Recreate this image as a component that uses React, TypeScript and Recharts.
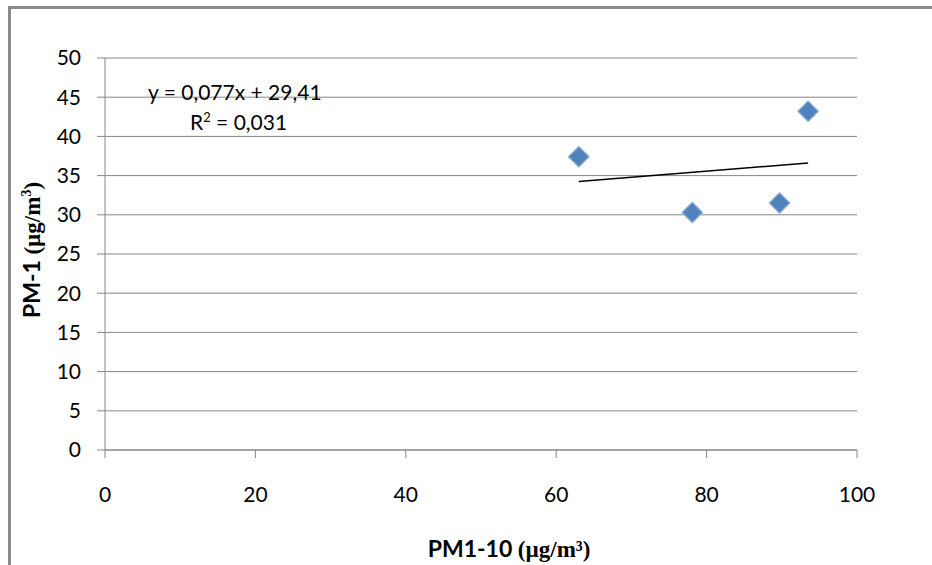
import { CartesianGrid, Scatter, ScatterChart, XAxis, YAxis } from "recharts";

const pm110 = [63.0, 78.1, 89.7, 93.5];
const pm1 = [37.4, 30.3, 31.5, 43.2];
const trendX = [63.0, 93.5];
const trendY = [34.26, 36.61];
const xTicks = [0, 20, 40, 60, 80, 100];
const yTicks = [0, 5, 10, 15, 20, 25, 30, 35, 40, 45, 50];

const points = pm110.map((x, i) => ({ x, y: pm1[i] }));
const trend = trendX.map((x, i) => ({ x, y: trendY[i] }));

const BLUE = "#4F81BD";
const GRID = "#868686";
const FONT = "Lato, 'Liberation Sans', sans-serif";
const SERIF = "'Liberation Serif', serif";

const Diamond = (props: any) => {
    const { cx, cy } = props;
    const r = 10;
    return (
        <path
            d={`M${cx},${cy - r} L${cx + r},${cy} L${cx},${cy + r} L${cx - r},${cy} Z`}
            fill={BLUE}
            stroke="#7FA3D3"
            strokeWidth={1.5}
            strokeLinejoin="round"
        />
    );
};

const App = () => {
    return (
        <div style={{ position: "absolute", left: 0, top: 0, width: 932, height: 565, background: "#fff" }}>
            <div
                style={{
                    position: "absolute",
                    left: 8,
                    top: 6,
                    right: 0,
                    bottom: 0,
                    borderLeft: "3px solid #8a8a8a",
                    borderTop: "3px solid #8a8a8a",
                }}
            />
            <div style={{ position: "absolute", left: 0, top: 0 }}>
                <ScatterChart
                    width={932}
                    height={565}
                    margin={{ top: 58, right: 75, bottom: 75, left: 45 }}
                >
                    <CartesianGrid horizontal vertical={false} stroke={GRID} />
                    <XAxis
                        type="number"
                        dataKey="x"
                        domain={[0, 100]}
                        ticks={xTicks}
                        height={40}
                        tickSize={8}
                        tickMargin={29}
                        axisLine={{ stroke: GRID }}
                        tickLine={{ stroke: GRID }}
                        tick={{ fill: "#000", fontSize: 21, fontFamily: FONT }}
                    />
                    <YAxis
                        type="number"
                        dataKey="y"
                        domain={[0, 50]}
                        ticks={yTicks}
                        width={60}
                        tickSize={8}
                        tickMargin={16}
                        axisLine={{ stroke: GRID }}
                        tickLine={{ stroke: GRID }}
                        tick={{ fill: "#000", fontSize: 21, fontFamily: FONT }}
                    />
                    <Scatter
                        data={trend}
                        line={{ stroke: "#000", strokeWidth: 1.5 }}
                        shape={() => <g />}
                        isAnimationActive={false}
                    />
                    <Scatter data={points} shape={Diamond} isAnimationActive={false} />
                </ScatterChart>
            </div>
            <svg
                width={932}
                height={565}
                style={{ position: "absolute", left: 0, top: 0, pointerEvents: "none" }}
            >
                <text x={148} y={100} fontSize={21} fontFamily={FONT} fill="#000">
                    y = 0,077x + 29,41
                </text>
                <text x={190} y={130} fontSize={21} fontFamily={FONT} fill="#000">
                    R
                    <tspan fontSize={13} dy={-8}>2</tspan>
                    <tspan dy={8}> = 0,031</tspan>
                </text>
                <text
                    x={509}
                    y={557}
                    textAnchor="middle"
                    fontSize={23}
                    fontWeight="bold"
                    fill="#000"
                >
                    <tspan fontFamily={FONT}>PM1-10 </tspan>
                    <tspan fontFamily={SERIF}>(µg/m³)</tspan>
                </text>
                <text
                    transform="translate(40,250) rotate(-90)"
                    textAnchor="middle"
                    fontSize={23}
                    fontWeight="bold"
                    fill="#000"
                >
                    <tspan fontFamily={FONT}>PM-1 </tspan>
                    <tspan fontFamily={SERIF}>(µg/m</tspan>
                    <tspan fontFamily={SERIF} fontSize={14} dy={-9}>3</tspan>
                    <tspan fontFamily={SERIF} dy={9}>)</tspan>
                </text>
            </svg>
        </div>
    );
};

export default App;
